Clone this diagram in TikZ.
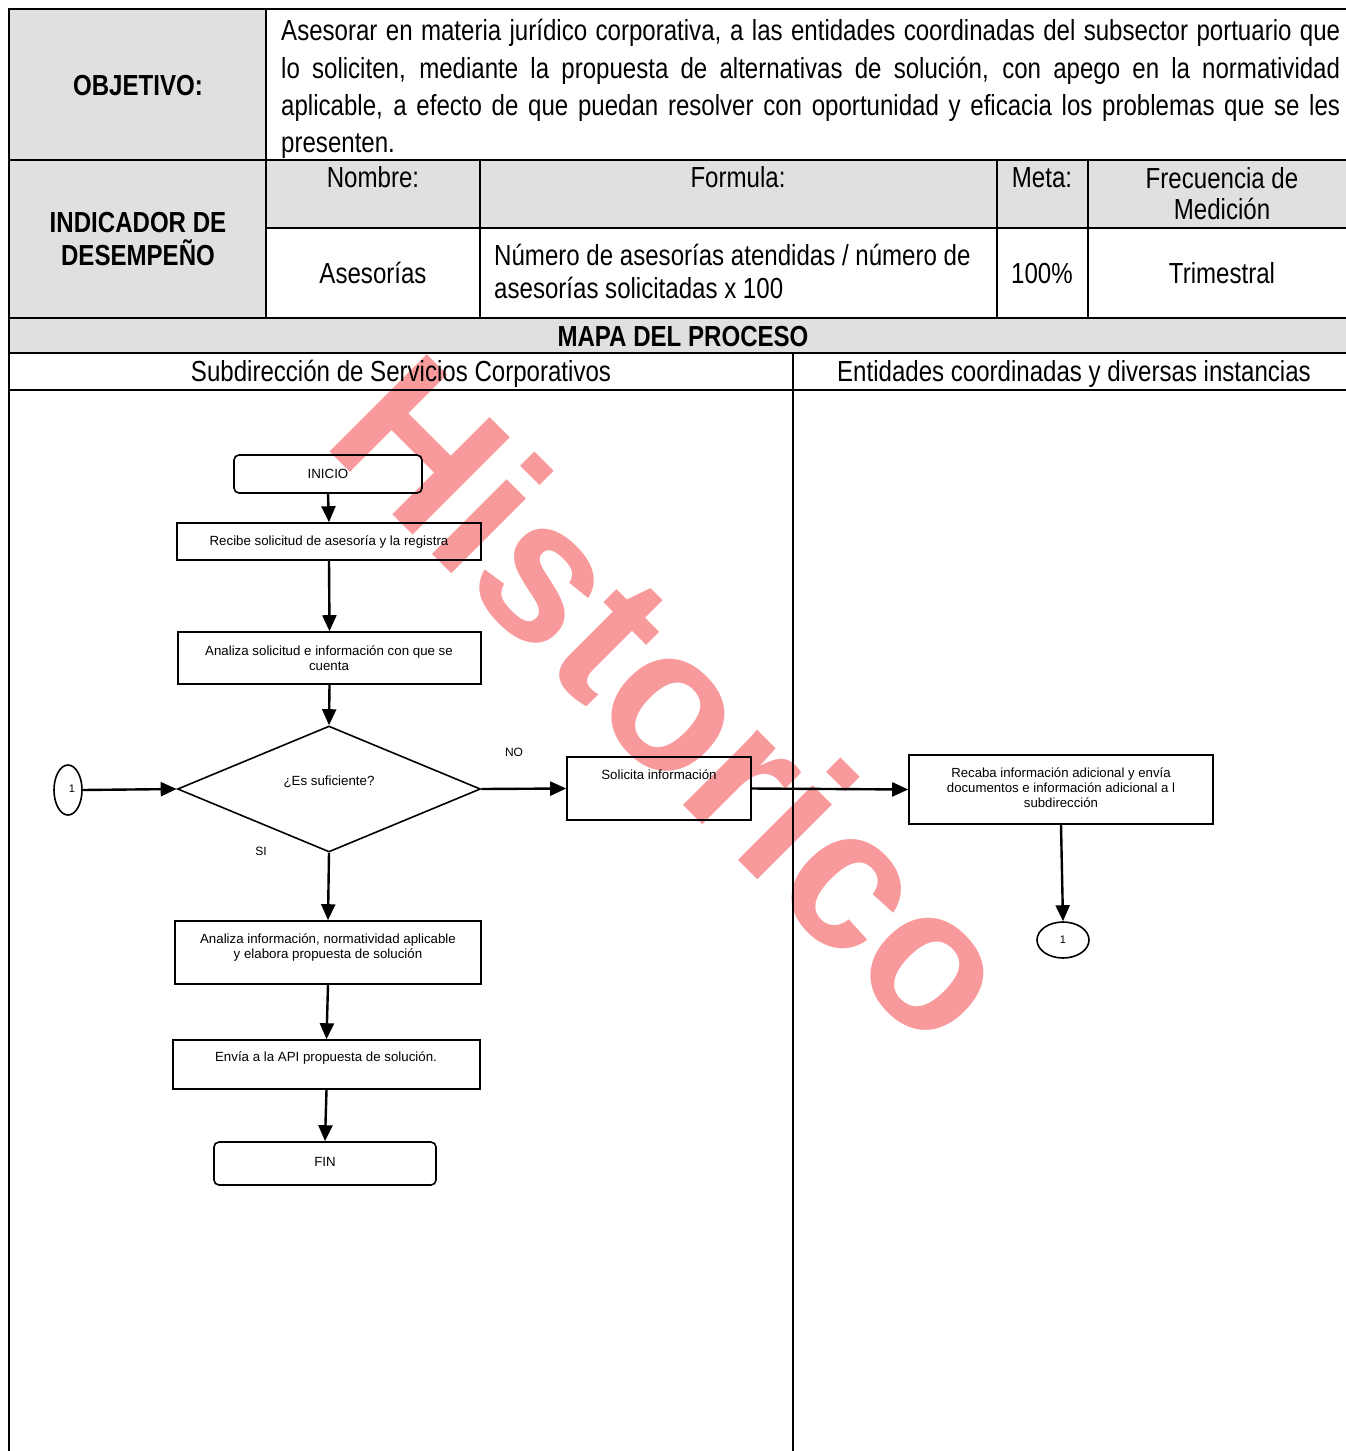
\documentclass[tikz,border=0pt]{standalone}
\usepackage{fontspec}
\setmainfont{Liberation Sans}
\newfontfamily\narrow[FakeStretch=0.83]{Liberation Sans}
\usetikzlibrary{shapes.geometric,arrows.meta}
\definecolor{cellgray}{RGB}{224,224,224}
\definecolor{wmark}{RGB}{248,154,156}
\begin{document}
\begin{tikzpicture}[x=1pt,y=-1pt,
  tb/.style={font=\narrow\fontsize{29}{30}\selectfont, inner sep=0, anchor=base},
  tbb/.style={tb, font=\narrow\bfseries\fontsize{29}{30}\selectfont},
  ft/.style={font=\fontsize{13.3}{15.5}\selectfont, inner sep=0, align=center},
  box/.style={draw, line width=1.6pt, inner sep=0},
  term/.style={box, rounded corners=5pt},
  arr/.style={line width=2.4pt, -{Triangle[length=16pt,width=14pt]}},
  gridline/.style={line width=2pt}]
\useasboundingbox (0,0) rectangle (1346,1451);
% fills
\fill[cellgray] (9,9) rectangle (266,318);
\fill[cellgray] (266,160) rectangle (1346,228);
\fill[cellgray] (9,318) rectangle (1346,353);
% watermark
\node[font=\bfseries\fontsize{200}{204}\selectfont, text=wmark, rotate=-45, anchor=base west, inner sep=0] (wm) at (320,442) {Historico};
% grid
\draw[gridline] (9,1451) -- (9,9) -- (1346,9);
\draw[gridline] (9,160) -- (1346,160);
\draw[gridline] (266,228) -- (1346,228);
\draw[gridline] (9,318) -- (1346,318);
\draw[gridline] (9,353) -- (1346,353);
\draw[gridline] (9,390) -- (1346,390);
\draw[gridline] (266,9) -- (266,318);
\draw[gridline] (480,160) -- (480,318);
\draw[gridline] (997,160) -- (997,318);
\draw[gridline] (1088,160) -- (1088,318);
\draw[gridline] (793,353) -- (793,1451);
% table text
\node[tbb] (obj) at (138,95) {OBJETIVO:};
\node[tb, anchor=base west] (o1) at (281,40) {\makebox[1059pt][s]{Asesorar en materia jurídico corporativa, a las entidades coordinadas del subsector portuario que}};
\node[tb, anchor=base west] (o2) at (281,78) {\makebox[1059pt][s]{lo soliciten, mediante la propuesta de alternativas de solución, con apego en la normatividad}};
\node[tb, anchor=base west] (o3) at (281,115) {\makebox[1059pt][s]{aplicable, a efecto de que puedan resolver con oportunidad y eficacia los problemas que se les}};
\node[tb, anchor=base west] (o4) at (281,152) {presenten.};
\node[tbb] (ind1) at (138,232) {INDICADOR DE};
\node[tbb] (ind2) at (138,265) {DESEMPEÑO};
\node[tb] (hn) at (373,187) {Nombre:};
\node[tb] (hf) at (738,187) {Formula:};
\node[tb] (hm) at (1042,187) {Meta:};
\node[tb] (hq1) at (1222,188) {Frecuencia de};
\node[tb] (hq2) at (1222,219) {Medición};
\node[tb] (vn) at (373,283) {Asesorías};
\node[tb, anchor=base west] (vf1) at (494,265) {Número de asesorías atendidas / número de};
\node[tb, anchor=base west] (vf2) at (494,298) {asesorías solicitadas x 100};
\node[tb] (vm) at (1042,283) {100\%};
\node[tb] (vq) at (1222,283) {Trimestral};
\node[tbb] (mapa) at (683,346) {MAPA DEL PROCESO};
\node[tb] (lane1) at (401,381) {Subdirección de Servicios Corporativos};
\node[tb] (lane2) at (1074,381) {Entidades coordinadas y diversas instancias};
% flowchart shapes
\node[term, minimum width=188pt, minimum height=38pt] (inicio) at (328,474) {};
\node[box, minimum width=304pt, minimum height=37pt] (recibe) at (329,541.5) {};
\node[box, minimum width=303pt, minimum height=52pt] (analiza) at (329.5,658) {};
\node[draw, diamond, line width=1.6pt, inner sep=0, aspect=2.4, minimum width=303pt, minimum height=126pt] (dec) at (329,789) {};
\node[draw, ellipse, line width=1.6pt, inner sep=0, minimum width=28pt, minimum height=50pt] (c1) at (68,790) {};
\node[box, minimum width=184pt, minimum height=63pt] (solicita) at (659,788.5) {};
\node[box, minimum width=304pt, minimum height=69pt] (recaba) at (1061,789.5) {};
\node[draw, ellipse, line width=1.6pt, inner sep=0, minimum width=52pt, minimum height=36pt] (c2) at (1063,940) {};
\node[box, minimum width=306pt, minimum height=63pt] (analiza2) at (328,952.5) {};
\node[box, minimum width=307pt, minimum height=49pt] (envia) at (326.5,1064.5) {};
\node[term, minimum width=222pt, minimum height=43pt] (fin) at (325,1163.5) {};
% flowchart texts
\node[ft] (inicio-t) at (328,474) {INICIO};
\node[ft] (recibe-t) at (329,542) {Recibe solicitud de asesoría y la registra};
\node[ft] (analiza-t) at (329,658) {Analiza solicitud e información con que se\\cuenta};
\node[ft] (dec-t) at (329,782) {¿Es suficiente?};
\node[ft, font=\fontsize{11}{13}\selectfont] (c1-t) at (72,789) {1};
\node[ft, font=\fontsize{12}{14}\selectfont] (no-t) at (514,752) {NO};
\node[ft, font=\fontsize{12}{14}\selectfont] (si-t) at (261,851) {SI};
\node[ft] (solicita-t) at (659,775) {Solicita información};
\node[ft, font=\fontsize{13.2}{15}\selectfont] (recaba-t) at (1061,788) {Recaba información adicional y envía\\documentos e información adicional a l\\subdirección};
\node[ft, font=\fontsize{11}{13}\selectfont] (c2-t) at (1063,940) {1};
\node[ft] (analiza2-t) at (328,947.5) {Analiza información, normatividad aplicable\\y elabora propuesta de solución};
\node[ft] (envia-t) at (326,1058) {Envía a la API propuesta de solución.};
\node[ft] (fin-t) at (325,1162) {FIN};
% connectors
\draw[arr] (inicio.south) -- (recibe.north);
\draw[arr] (recibe.south) -- (analiza.north);
\draw[arr] (analiza.south) -- (dec.north);
\draw[arr] (c1.east) -- (dec.west);
\draw[arr] (dec.east) -- (solicita.west);
\draw[arr] (solicita.east) -- (recaba.west);
\draw[arr] (recaba.south) -- (c2.north);
\draw[arr] (dec.south) -- (analiza2.north);
\draw[arr] (analiza2.south) -- (envia.north);
\draw[arr] (envia.south) -- (fin.north);
\end{tikzpicture}
\end{document}
